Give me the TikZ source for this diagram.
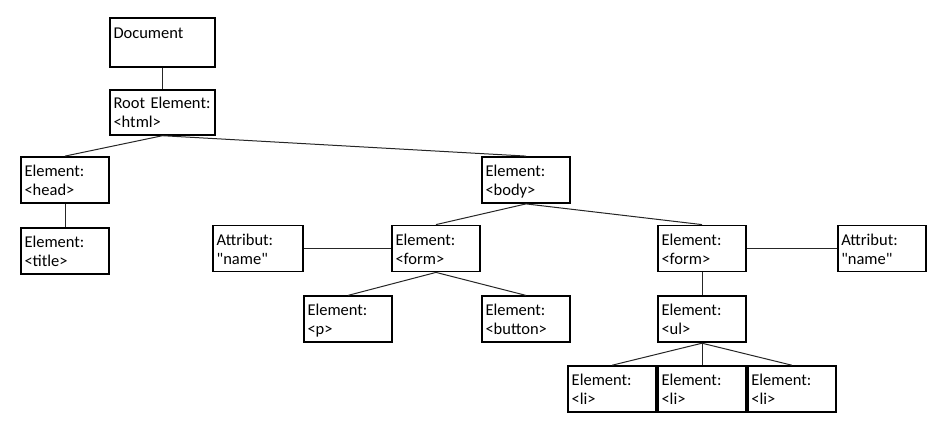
\documentclass[tikz,border=0pt]{standalone}
\usepackage{fontspec}
\newfontfamily\boxfont{Carlito}
\usetikzlibrary{positioning}

\begin{document}
\begin{tikzpicture}[
  x=1pt, y=-1pt,
  node distance=22pt,
  box/.style={
    draw=black,
    line width=1.8pt,
    fill=white,
    minimum height=46pt,
    text width=#1,
    inner xsep=3.5pt,
    inner ysep=0pt,
    align=left,
    font=\boxfont\fontsize{16.5}{19}\selectfont,
    execute at begin node=\rule{0pt}{17pt},
    execute at end node=\rule[-5pt]{0pt}{0pt},
  },
  box/.default=81pt,
  link/.style={
    line width=1pt,
    black!85,
  },
]
\useasboundingbox (0,0) rectangle (944,425);

% Nodes
\node[box=98pt, minimum height=49pt] (doc) at (162.5,42.5) {Document\\\mbox{}};
\node[box=98pt, minimum height=45pt, below=21pt of doc] (root) {Root~Element:\\<html>};

\node[box] (head) at (65,180) {Element:\\<head>};
\node[box, below=23pt of head] (title) {Element:\\<title>};

\node[box] (body) at (526,180) {Element:\\<body>};

\node[box] (formL) at (436,248.5) {Element:\\<form>};
\node[box=83pt, left=87pt of formL] (attrL) {Attribut:\\"name"};
\node[box, below=23pt of formL, xshift=-88pt] (p) {Element:\\<p>};
\node[box, below=23pt of formL, xshift=90pt] (button) {Element:\\<button>};

\node[box] (formR) at (702,248.5) {Element:\\<form>};
\node[box, right=90pt of formR] (attrR) {Attribut:\\"name"};
\node[box, below=23pt of formR] (ul) {Element:\\<ul>};

\node[box, below=22pt of ul] (li2) {Element:\\<li>};
\node[box, left=0pt of li2] (li1) {Element:\\<li>};
\node[box, right=0pt of li2] (li3) {Element:\\<li>};

% Connectors
\draw[link] (doc)         -- (root);
\draw[link] (root.south)  -- (head.north);
\draw[link] (root.south)  -- (body.north);
\draw[link] (head)        -- (title);
\draw[link] (body.south)  -- (formL.north);
\draw[link] (body.south)  -- (formR.north);
\draw[link] (attrL)       -- (formL);
\draw[link] (formL.south) -- (p.north);
\draw[link] (formL.south) -- (button.north);
\draw[link] (formR)       -- (attrR);
\draw[link] (formR)       -- (ul);
\draw[link] (ul.south)    -- (li1.north);
\draw[link] (ul.south)    -- (li2.north);
\draw[link] (ul.south)    -- (li3.north);

\end{tikzpicture}
\end{document}
